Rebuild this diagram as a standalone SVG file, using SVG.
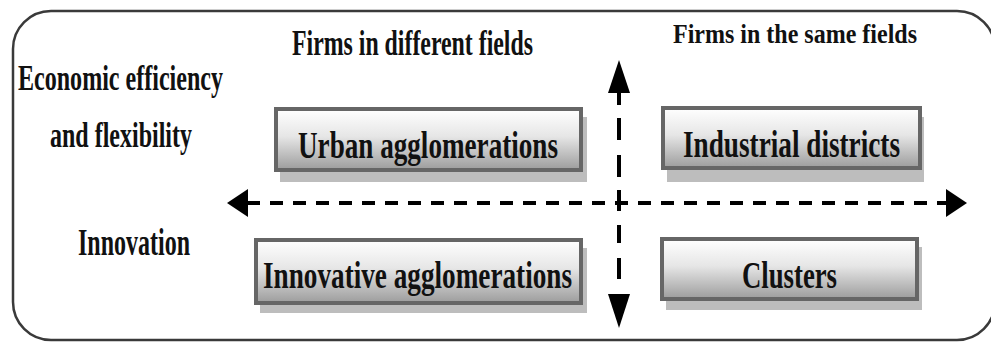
<svg xmlns="http://www.w3.org/2000/svg" width="991" height="342" viewBox="0 0 991 342">
  <defs>
    <linearGradient id="boxFill" x1="0" y1="0" x2="0" y2="1">
      <stop offset="0" stop-color="#ffffff"/>
      <stop offset="0.45" stop-color="#e6e6e6"/>
      <stop offset="1" stop-color="#9c9c9c"/>
    </linearGradient>
  </defs>
  <style>
    .frame { fill: #ffffff; stroke: #3a3a3a; stroke-width: 2.5; }
    .shadow { fill: #bdbdbd; }
    .box { fill: url(#boxFill); stroke: #666666; stroke-width: 4; }
    .lbl { font-weight: bold; fill: #111111; }
    .axis { fill: none; stroke: #000000; stroke-width: 4; }
    .head { fill: #000000; }
  </style>

  <rect width="991" height="342" fill="#ffffff"/>
  <!-- outer rounded frame -->
  <rect class="frame" x="13" y="11" width="982" height="329" rx="38" ry="38"/>

  <g font-family="'Liberation Serif', 'DejaVu Serif', serif">
    <!-- axis labels -->
    <g id="label-different-fields">
      <text class="lbl" x="292" y="55" font-size="35" textLength="241" lengthAdjust="spacingAndGlyphs">Firms in different fields</text>
    </g>
    <g id="label-same-fields">
      <text class="lbl" x="673" y="43" font-size="28" textLength="244" lengthAdjust="spacingAndGlyphs">Firms in the same fields</text>
    </g>
    <g id="label-efficiency">
      <text class="lbl" x="18" y="90" font-size="35" textLength="205" lengthAdjust="spacingAndGlyphs">Economic efficiency</text>
      <text class="lbl" x="50" y="147" font-size="35" textLength="142" lengthAdjust="spacingAndGlyphs">and flexibility</text>
    </g>
    <g id="label-innovation">
      <text class="lbl" x="78" y="255" font-size="37" textLength="112" lengthAdjust="spacingAndGlyphs">Innovation</text>
    </g>

    <!-- connectors: the two dashed axes -->
    <g id="axes">
      <path class="axis" d="M247 203H947" stroke-dasharray="13 10"/>
      <polygon class="head" points="227,203 248,189 248,217"/>
      <polygon class="head" points="967,203 946,189 946,217"/>
      <path class="axis" stroke-width="3.5" d="M619 90V105M619 118V140M619 155V177M619 190V211M619 225V243M619 258V279"/>
      <polygon class="head" points="619,60 608,93 630,93"/>
      <polygon class="head" points="619,328 608,294 630,294"/>
    </g>

    <!-- quadrant boxes -->
    <g id="urban-agglomerations">
      <rect class="shadow" x="280" y="117" width="307" height="65"/>
      <rect class="box" x="276" y="109" width="305" height="61"/>
      <text class="lbl" x="298" y="158" font-size="37" textLength="260" lengthAdjust="spacingAndGlyphs">Urban agglomerations</text>
    </g>
    <g id="industrial-districts">
      <rect class="shadow" x="667" y="117" width="257" height="65"/>
      <rect class="box" x="663" y="108" width="257" height="60"/>
      <text class="lbl" x="683" y="157" font-size="37" textLength="217" lengthAdjust="spacingAndGlyphs">Industrial districts</text>
    </g>
    <g id="innovative-agglomerations">
      <rect class="shadow" x="260" y="248" width="327" height="65"/>
      <rect class="box" x="256" y="240" width="325" height="63"/>
      <text class="lbl" x="263" y="288" font-size="37" textLength="309" lengthAdjust="spacingAndGlyphs">Innovative agglomerations</text>
    </g>
    <g id="clusters">
      <rect class="shadow" x="666" y="247" width="256" height="63"/>
      <rect class="box" x="662" y="239" width="255" height="60"/>
      <text class="lbl" x="742" y="288" font-size="37" textLength="95" lengthAdjust="spacingAndGlyphs">Clusters</text>
    </g>
  </g>
</svg>
